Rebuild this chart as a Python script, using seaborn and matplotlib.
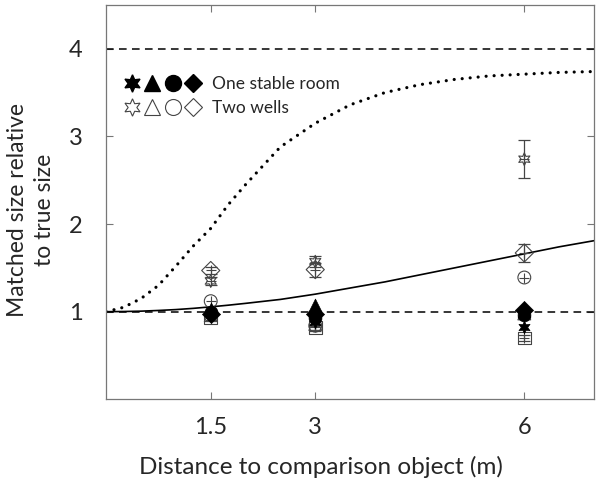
import numpy as np
import pandas as pd
import matplotlib
matplotlib.use("Agg")
import matplotlib.pyplot as plt
import seaborn as sns
from matplotlib.lines import Line2D
from matplotlib.legend_handler import HandlerTuple

# Data
distance = [1.5, 3, 6]

stable_star = [0.99, 0.88, 0.83]
stable_tri = [1.03, 1.08, 1.01]
stable_circ = [1.00, 0.93, 0.96]
stable_diam = [0.97, 0.97, 1.02]

wells_star = [1.35, 1.57, 2.74]
wells_star_err = [0.05, 0.06, 0.22]
wells_tri = [0.96, 0.86, 0.98]
wells_circ = [1.12, 0.84, 1.39]
wells_diam = [1.47, 1.48, 1.67]
wells_diam_err = [0.04, 0.08, 0.10]
wells_square = [0.93, 0.82, 0.70]
wells_square_err = [0.03, 0.04, 0.03]

# model curves
curve_x = [0, 0.25, 0.5, 0.75, 1.0, 1.25, 1.5, 1.75, 2.0, 2.5, 3.0, 3.5,
           4.0, 4.5, 5.0, 5.5, 6.0, 6.5, 7.0]
dotted_y = [1.00, 1.05, 1.15, 1.30, 1.52, 1.75, 1.95, 2.22, 2.45, 2.88, 3.15,
            3.36, 3.50, 3.59, 3.65, 3.69, 3.71, 3.73, 3.74]
solid_y = [1.00, 1.002, 1.006, 1.014, 1.024, 1.038, 1.055, 1.074, 1.095, 1.14,
           1.20, 1.27, 1.34, 1.42, 1.50, 1.58, 1.66, 1.74, 1.81]

xticks = [1.5, 3, 6]
yticks = [1, 2, 3, 4]

sns.set_style("ticks")
plt.rcParams['font.family'] = ['Lato', 'DejaVu Sans']

fig, ax = plt.subplots(figsize=(6, 4.93), dpi=100)
fig.subplots_adjust(left=0.177, right=0.99, bottom=0.19, top=0.99)

# reference lines
ax.axhline(1, color='black', lw=1.1, ls=(0, (5, 3.5)), zorder=1)
ax.axhline(4, color='black', lw=1.1, ls=(0, (5, 3.5)), zorder=1)

# curves
sns.lineplot(x=curve_x, y=solid_y, ax=ax, color='black', lw=1.2, zorder=2)
sns.lineplot(x=curve_x, y=dotted_y, ax=ax, color='black', lw=2.3,
             linestyle=(0, (0.01, 2.5)), dash_capstyle='round', zorder=2)

star6 = (6, 1, 0)
msize = 85
grey = '#444444'

# error bars
for vals, err in [(wells_star, wells_star_err), (wells_diam, wells_diam_err),
                  (wells_square, wells_square_err)]:
    ax.errorbar(distance, vals, yerr=err, fmt='none', ecolor=grey,
                elinewidth=0.9, capsize=4, capthick=0.9, zorder=3)

# two wells (open)
for vals, m in [(wells_star, star6), (wells_tri, '^'), (wells_circ, 'o'),
                (wells_diam, 'D'), (wells_square, 's')]:
    sns.scatterplot(x=distance, y=vals, ax=ax, marker=m, s=msize,
                    facecolor='none', edgecolor=grey, linewidth=0.8, zorder=3)
    sns.scatterplot(x=distance, y=vals, ax=ax, marker='+', s=50,
                    color=grey, linewidth=0.8, zorder=3)

# one stable room (filled)
for vals, m in [(stable_tri, '^'), (stable_circ, 'o'), (stable_diam, 'D'),
                (stable_star, star6)]:
    sns.scatterplot(x=distance, y=vals, ax=ax, marker=m, s=msize,
                    color='black', edgecolor='black', linewidth=0.5, zorder=4)

# legend
sizes = [(star6, 12.5), ('^', 11.5), ('o', 11.5), ('D', 9.5)]
filled = tuple(Line2D([], [], ls='none', marker=m, markersize=ms, color='black')
               for m, ms in sizes)
hollow = tuple(Line2D([], [], ls='none', marker=m, markersize=ms,
                      markerfacecolor='none', markeredgecolor=grey, markeredgewidth=0.8)
               for m, ms in sizes)
ax.legend([filled, hollow], ['One stable room', 'Two wells'],
          handler_map={tuple: HandlerTuple(ndivide=None, pad=0.0)},
          loc='upper left', bbox_to_anchor=(0.0, 0.86), frameon=False,
          fontsize=12.5, handlelength=4.7, handletextpad=0.5, labelspacing=0.5)

ax.set_xlim(0, 7)
ax.set_ylim(0, 4.5)
ax.set_xticks(xticks)
ax.set_xticklabels(['1.5', '3', '6'])
ax.set_yticks(yticks)
ax.tick_params(direction='in', top=True, right=True, length=5, width=0.8,
               color='#777777', labelsize=17)
ax.tick_params(axis='x', pad=13)
ax.tick_params(axis='y', pad=17)
for sp in ax.spines.values():
    sp.set_color('#777777')
    sp.set_linewidth(0.9)

ax.set_xlabel('Distance to comparison object (m)', fontsize=17.5)
ax.xaxis.set_label_coords(0.44, -0.171)
ax.xaxis.label.set_va('center')
ax.set_ylabel('Matched size relative\nto true size', fontsize=16.5,
              linespacing=1.35, multialignment='center')
ax.yaxis.set_label_coords(-0.105, 0.48)

fig.savefig('out.png', dpi=100)
